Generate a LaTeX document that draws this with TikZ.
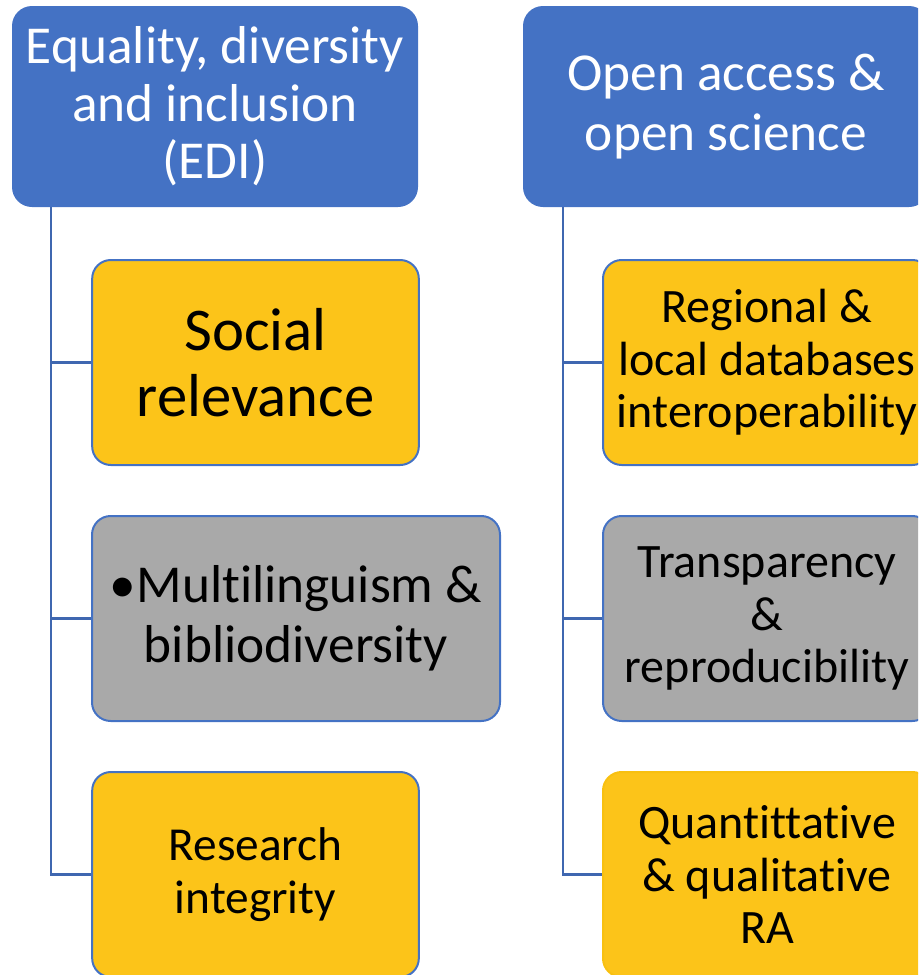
\documentclass[tikz,border=0pt]{standalone}
\usepackage{fontspec}
\setmainfont{Carlito}[Ligatures=NoCommon]
\definecolor{headblue}{HTML}{4472C4}
\definecolor{linkblue}{HTML}{3F67B0}
\definecolor{gold}{HTML}{FCC419}
\definecolor{goldedge}{HTML}{F8C010}
\definecolor{greybox}{HTML}{A9A9A9}
\tikzset{
  headbox/.style={fill=headblue, text=white, rounded corners=15pt, align=center, inner sep=0pt},
  childbox/.style={draw=headblue, line width=1.5pt, rounded corners=14pt, align=center, inner sep=0pt, text=black},
  link/.style={draw=linkblue, line width=2.2pt}
}
\begin{document}
\begin{tikzpicture}[x=0.75pt,y=-0.75pt]
\useasboundingbox (0,0) rectangle (918,975);
\clip (0,0) rectangle (918,975);
% head boxes
\node[headbox, minimum width=304.5pt, minimum height=150.75pt,
  font=\fontsize{40}{43}\selectfont] (edi) at (215,106.5)
  {Equality, diversity\\and inclusion\\(EDI)};
\node[headbox, minimum width=304.5pt, minimum height=150.75pt,
  font=\fontsize{40}{45}\selectfont] (oa) at (726,106.5)
  {Open access \&\\open science};
% left children
\node[childbox, fill=gold, minimum width=245pt, minimum height=153.75pt,
  font=\fontsize{45.5}{50}\selectfont] (soc) at (255.5,362.5)
  {Social\\relevance};
\node[childbox, fill=greybox, minimum width=306pt, minimum height=153.75pt,
  font=\fontsize{40}{45}\selectfont] (mul) at (296,618.5)
  {•Multilinguism \&\\bibliodiversity};
\node[childbox, fill=gold, minimum width=245pt, minimum height=153.75pt,
  font=\fontsize{35.5}{39.4}\selectfont] (ri) at (255.5,874.5)
  {Research\\integrity};
% right children
\node[childbox, fill=gold, minimum width=246pt, minimum height=153.75pt,
  font=\fontsize{36}{39.4}\selectfont] (reg) at (767,362.5)
  {Regional \&\\local databases\\interoperability};
\node[childbox, fill=greybox, minimum width=246pt, minimum height=153.75pt,
  font=\fontsize{36}{39.4}\selectfont] (tra) at (767,618.5)
  {Transparency\\\&\\reproducibility};
\node[childbox, draw=goldedge, fill=gold, minimum width=246pt, minimum height=153.75pt,
  font=\fontsize{36}{39.4}\selectfont] (qua) at (767,874.5)
  {Quantittative\\\& qualitative\\RA};
% connectors
\coordinate (l0) at (51,207);
\coordinate (r0) at (563,207);
\draw[link] (l0) |- (soc.west);
\draw[link] (l0) |- (mul.west);
\draw[link] (l0) |- (ri.west);
\draw[link] (r0) |- (reg.west);
\draw[link] (r0) |- (tra.west);
\draw[link] (r0) |- (qua.west);
\end{tikzpicture}
\end{document}
